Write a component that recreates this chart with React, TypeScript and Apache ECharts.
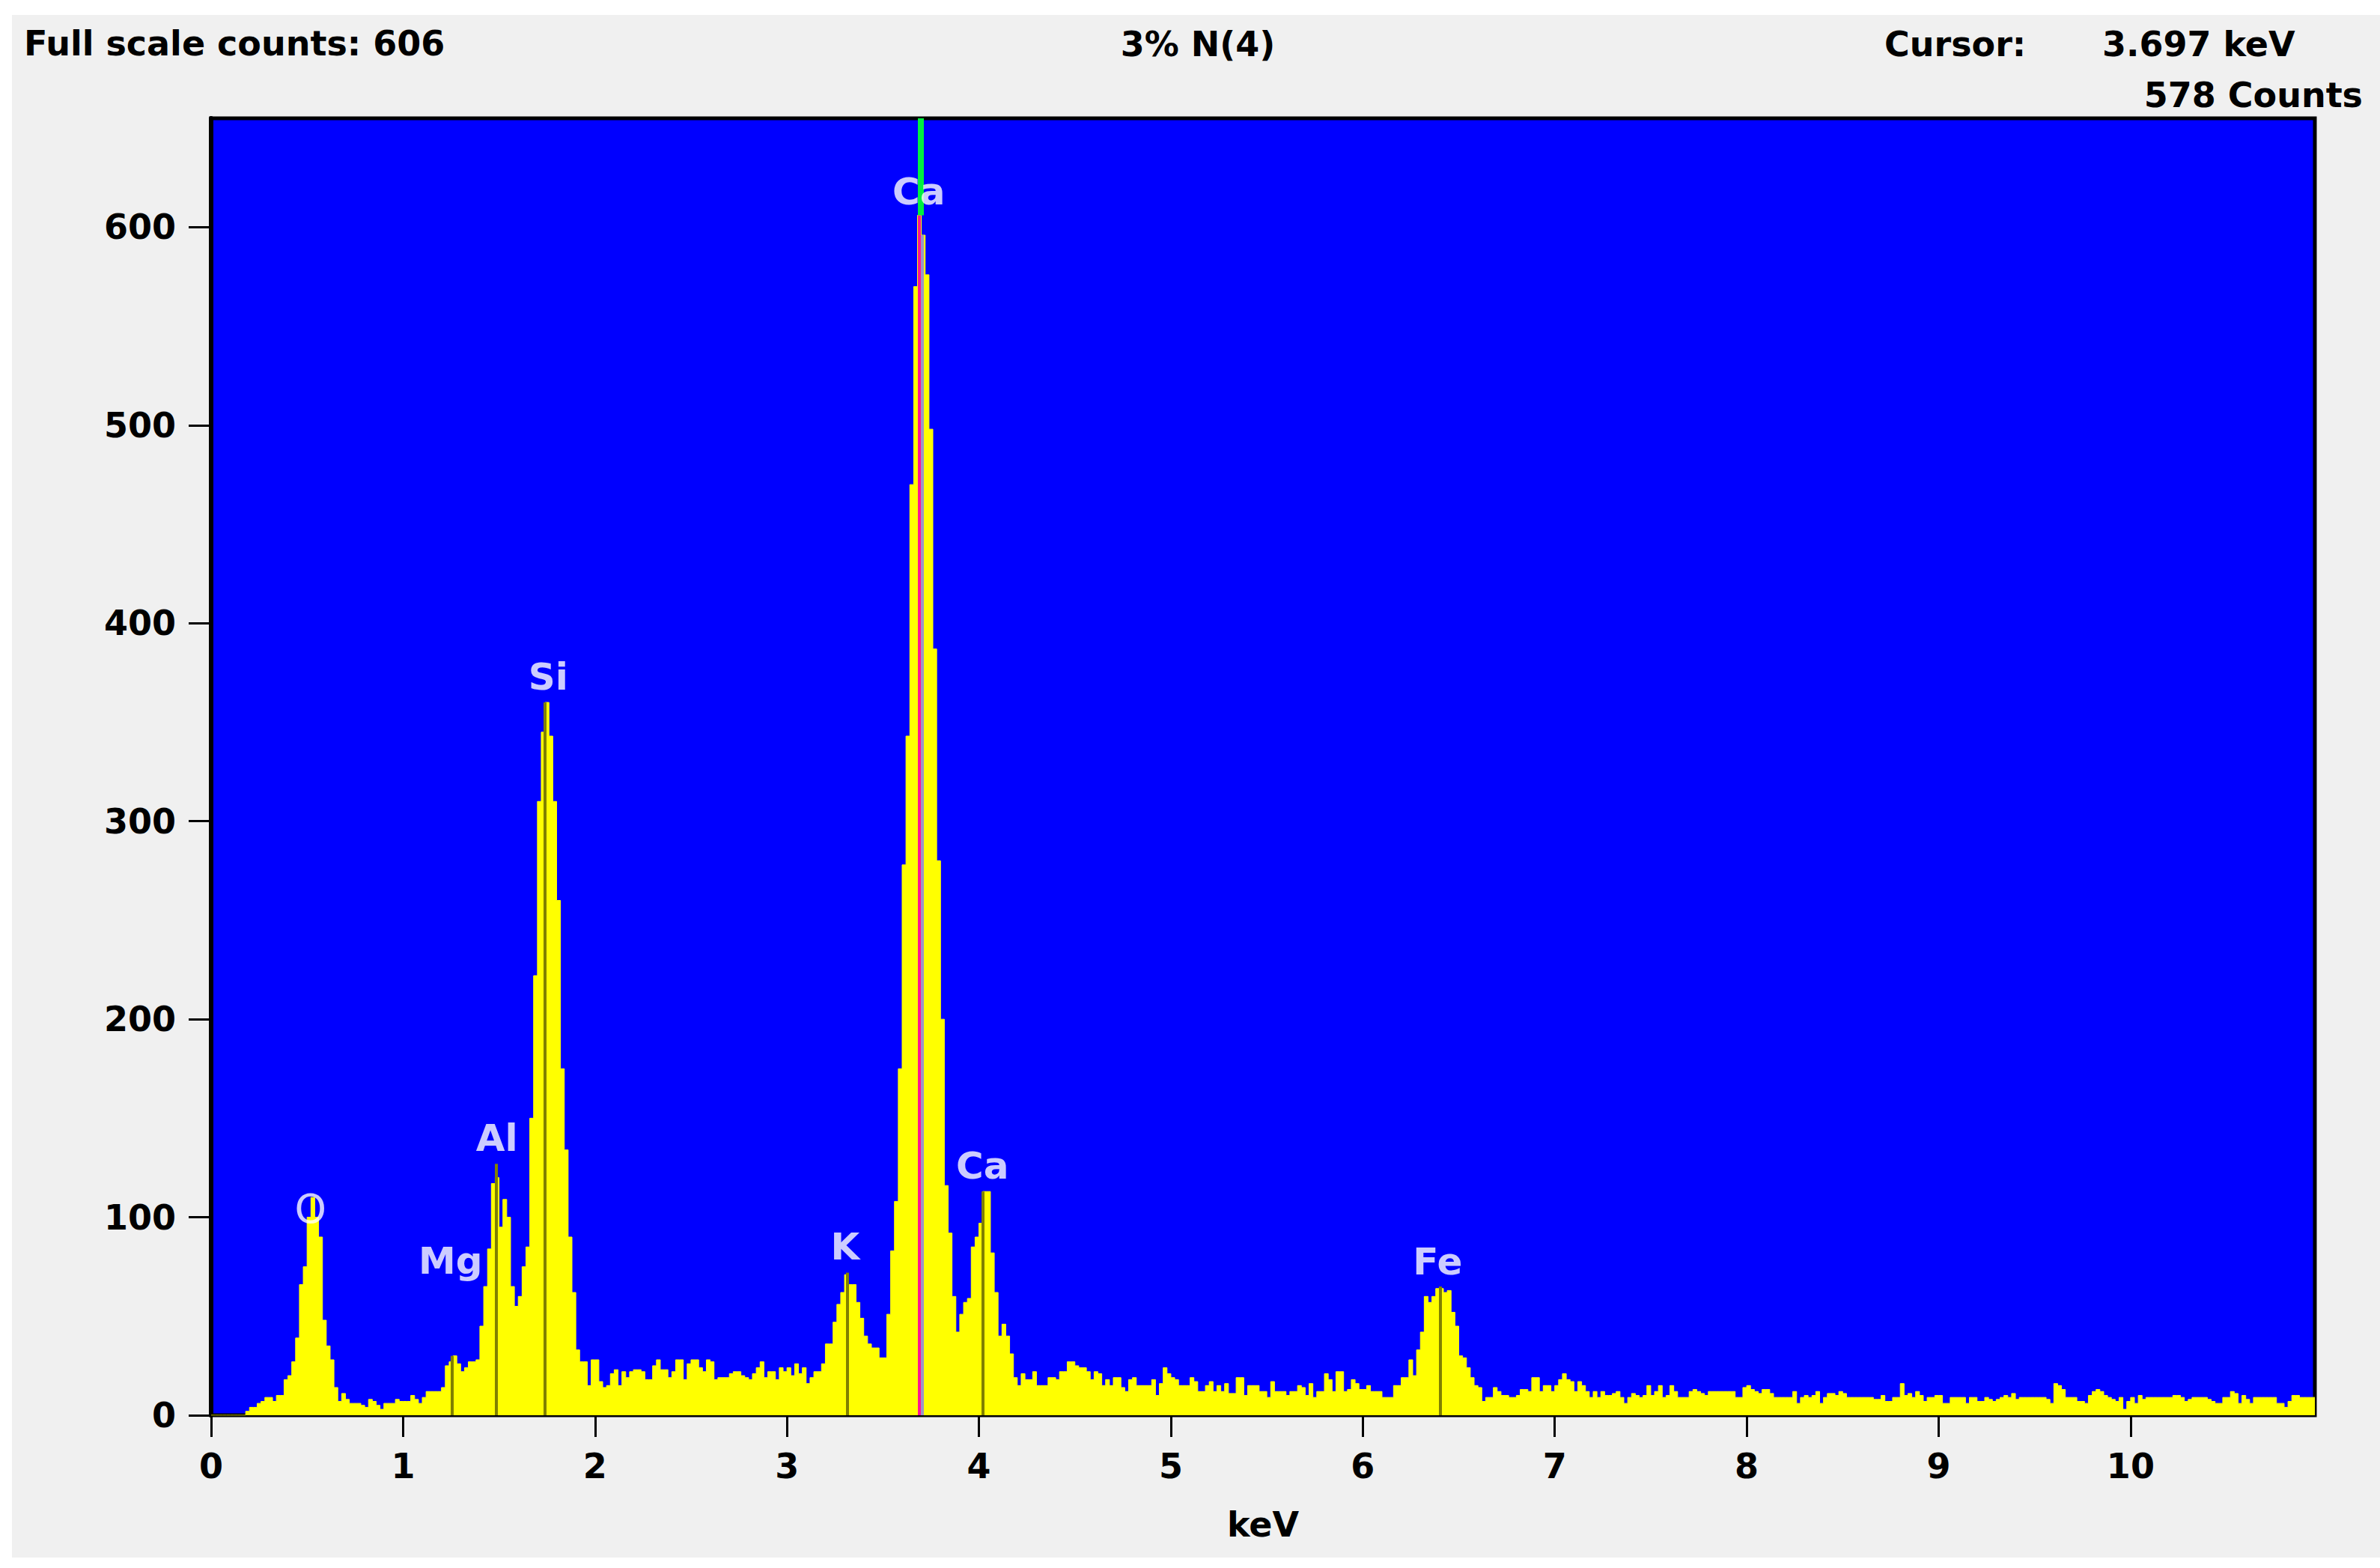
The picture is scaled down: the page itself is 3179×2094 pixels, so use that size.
import React, { useEffect, useRef } from "react";
import * as echarts from "echarts";

// ---- Spectrum data (counts per 0.02 keV channel) ----
const binWidthKeV = 0.02;
const counts0to1 = [
  0, 0, 0, 0, 0, 0, 0, 0, 0, 2,
  4, 4, 6, 7, 9, 9, 7, 10, 10, 18,
  20, 27, 39, 66, 75, 100, 110, 100, 90, 48,
  35, 28, 14, 7, 11, 8, 6, 6, 6, 5,
  4, 8, 7, 5, 3, 6, 6, 6, 8, 7,
];
const counts1to2 = [
  7, 7, 10, 8, 6, 9, 12, 12, 12, 12,
  14, 25, 27, 30, 26, 22, 24, 27, 27, 28,
  45, 65, 84, 117, 120, 95, 109, 100, 65, 55,
  60, 75, 85, 150, 222, 310, 345, 360, 343, 310,
  260, 175, 134, 90, 62, 33, 27, 27, 15, 28,
];
const counts2to3 = [
  28, 17, 14, 15, 21, 23, 15, 22, 19, 22,
  23, 23, 22, 18, 18, 25, 28, 23, 23, 19,
  22, 28, 28, 18, 26, 28, 28, 24, 22, 28,
  27, 18, 19, 19, 19, 21, 22, 22, 20, 19,
  18, 21, 24, 27, 19, 22, 22, 18, 24, 22,
];
const counts3to4 = [
  24, 20, 26, 21, 24, 16, 19, 22, 22, 26,
  36, 36, 47, 56, 62, 71, 66, 66, 57, 49,
  40, 36, 34, 34, 29, 29, 51, 83, 108, 175,
  278, 343, 470, 570, 606, 596, 576, 498, 387, 280,
  200, 116, 92, 60, 42, 51, 57, 59, 85, 90,
];
const counts4to5 = [
  97, 113, 113, 82, 62, 40, 46, 40, 31, 19,
  15, 21, 18, 18, 22, 15, 15, 15, 19, 19,
  18, 22, 22, 27, 27, 25, 24, 24, 22, 18,
  22, 21, 15, 18, 15, 19, 19, 14, 12, 18,
  19, 15, 15, 15, 15, 18, 10, 16, 24, 21,
];
const counts5to6 = [
  19, 18, 15, 15, 15, 19, 17, 12, 12, 15,
  17, 12, 15, 12, 16, 11, 11, 19, 19, 10,
  15, 15, 15, 12, 12, 9, 17, 12, 12, 12,
  10, 12, 12, 15, 14, 10, 16, 9, 12, 12,
  21, 18, 12, 22, 22, 12, 13, 18, 16, 13,
];
const counts6to7 = [
  13, 15, 12, 12, 12, 9, 9, 9, 15, 15,
  19, 19, 28, 20, 33, 42, 60, 57, 60, 64,
  64, 62, 63, 52, 45, 30, 29, 24, 19, 15,
  14, 7, 9, 9, 14, 12, 10, 10, 9, 9,
  10, 13, 13, 12, 19, 19, 12, 15, 15, 12,
];
const counts7to8 = [
  15, 18, 21, 18, 17, 12, 17, 15, 12, 9,
  12, 9, 12, 10, 10, 11, 12, 9, 6, 9,
  11, 10, 9, 10, 15, 10, 12, 15, 9, 10,
  15, 12, 9, 9, 9, 12, 13, 12, 11, 10,
  12, 12, 12, 12, 12, 12, 12, 9, 9, 14,
];
const counts8to9 = [
  15, 13, 12, 11, 13, 13, 11, 9, 9, 9,
  9, 9, 12, 6, 9, 10, 9, 10, 12, 6,
  9, 11, 11, 10, 12, 11, 9, 9, 9, 9,
  9, 9, 9, 8, 8, 10, 7, 7, 9, 9,
  16, 10, 11, 9, 12, 10, 7, 9, 9, 10,
];
const counts9to10 = [
  10, 6, 6, 9, 9, 9, 9, 6, 9, 9,
  7, 7, 9, 8, 7, 8, 9, 10, 9, 11,
  8, 9, 9, 9, 9, 9, 9, 9, 8, 6,
  16, 15, 13, 9, 9, 9, 7, 7, 6, 10,
  12, 13, 12, 10, 9, 8, 7, 9, 3, 7,
];
const counts10toEnd = [
  9, 6, 10, 8, 9, 9, 9, 9, 9, 9,
  9, 10, 10, 9, 7, 8, 9, 9, 9, 9,
  8, 7, 6, 6, 9, 9, 12, 11, 6, 10,
  8, 6, 9, 9, 9, 9, 9, 9, 6, 6,
  4, 7, 10, 10, 9, 9, 9, 9,
];

const spectrumCounts = [
  ...counts0to1, ...counts1to2, ...counts2to3, ...counts3to4, ...counts4to5,
  ...counts5to6, ...counts6to7, ...counts7to8, ...counts8to9, ...counts9to10,
  ...counts10toEnd,
];

// ---- Axes ----
const xMaxKeV = 10.96;
const yMaxCounts = 655;
const xTickValues = [0, 1, 2, 3, 4, 5, 6, 7, 8, 9, 10];
const yTickValues = [0, 100, 200, 300, 400, 500, 600];

// ---- Element marker lines ----
const markerKeV = [1.253, 1.486, 1.74, 3.313, 4.02, 6.403];
const markerTopCounts = [30, 127, 360, 72, 113, 65];

// ---- Element labels ----
const labelNames = ["O", "Mg", "Al", "Si", "K", "Ca", "Ca", "Fe"];
const labelKeV = [0.518, 1.247, 1.489, 1.756, 3.303, 3.687, 4.018, 6.39];
const labelCounts = [104, 78, 140, 373, 85, 618, 126, 77.5];

// ---- Header info ----
const fullScaleCounts = 606;
const cursorKeV = 3.697;
const cursorCounts = 578;
const cursorPeakCounts = 606;
const sampleTitle = "3% N(4)";

const FONT = "'DejaVu Sans', 'Noto Sans', sans-serif";

function buildOption() {
  const spectrumData: number[][] = spectrumCounts.map((v, i) => [
    Math.round(i * binWidthKeV * 1000) / 1000,
    v,
  ]);
  spectrumData.push([xMaxKeV, spectrumCounts[spectrumCounts.length - 1]]);

  const markerLines = markerKeV.map((e, i) => [
    { coord: [e, 0] },
    { coord: [e, markerTopCounts[i]] },
  ]);

  const halfCursor = 0.0078;
  const cursorLines = [
    [
      { coord: [cursorKeV - halfCursor, 0], lineStyle: { color: "#FF1493", width: 4, type: "solid" } },
      { coord: [cursorKeV - halfCursor, cursorPeakCounts] },
    ],
    [
      { coord: [cursorKeV + halfCursor, 0], lineStyle: { color: "#9A96C8", width: 4, type: "solid" } },
      { coord: [cursorKeV + halfCursor, cursorPeakCounts - 10] },
    ],
    [
      { coord: [cursorKeV, cursorPeakCounts], lineStyle: { color: "#00F040", width: 8, type: "solid" } },
      { coord: [cursorKeV, yMaxCounts] },
    ],
  ];

  const labelData = labelNames.map((n, i) => ({
    name: n,
    value: [labelKeV[i], labelCounts[i]],
    label: n === "O" ? { fontWeight: "normal", fontSize: 54 } : undefined,
  }));

  const headerStyle = {
    fill: "#000",
    fontFamily: FONT,
    fontWeight: "bold",
    fontSize: 46,
    verticalAlign: "middle",
    textVerticalAlign: "middle",
  };

  return {
    animation: false,
    backgroundColor: "#F0F0F0",
    textStyle: { fontFamily: FONT },
    grid: {
      left: 266,
      top: 138,
      right: 87,
      bottom: 190,
      show: true,
      backgroundColor: "#0000FF",
      borderColor: "#000000",
      borderWidth: 5,
    },
    xAxis: {
      type: "value",
      min: 0,
      max: xMaxKeV,
      interval: 1,
      name: "keV",
      nameLocation: "middle",
      nameGap: 123,
      nameTextStyle: { fontSize: 46, fontWeight: "bold", color: "#000", fontFamily: FONT },
      axisLine: { show: true, onZero: false, lineStyle: { color: "#000", width: 3 } },
      axisTick: {
        show: true,
        length: 29,
        customValues: xTickValues,
        lineStyle: { color: "#000", width: 3 },
      },
      axisLabel: {
        show: true,
        customValues: xTickValues,
        margin: 45,
        fontSize: 46,
        fontWeight: "bold",
        color: "#000",
        fontFamily: FONT,
        formatter: (v: number) => (Math.abs(v - Math.round(v)) < 1e-6 ? String(Math.round(v)) : ""),
      },
      splitLine: { show: false },
    },
    yAxis: {
      type: "value",
      min: 0,
      max: yMaxCounts,
      interval: 100,
      axisLine: { show: true, onZero: false, lineStyle: { color: "#000", width: 6 } },
      axisTick: {
        show: true,
        length: 30,
        customValues: yTickValues,
        lineStyle: { color: "#000", width: 3 },
      },
      axisLabel: {
        show: true,
        customValues: yTickValues,
        margin: 47,
        fontSize: 46,
        fontWeight: "bold",
        color: "#000",
        fontFamily: FONT,
        formatter: (v: number) => (v % 100 === 0 ? String(v) : ""),
      },
      splitLine: { show: false },
    },
    series: [
      {
        name: "Spectrum",
        type: "line",
        step: "end",
        data: spectrumData,
        symbol: "none",
        silent: true,
        z: 2,
        lineStyle: { color: "#FFFF00", width: 1 },
        itemStyle: { color: "#FFFF00" },
        areaStyle: { color: "#FFFF00", opacity: 1 },
        markLine: {
          silent: true,
          symbol: ["none", "none"],
          label: { show: false },
          lineStyle: { color: "#808000", width: 4, type: "solid" },
          data: [...markerLines, ...cursorLines],
        },
      },
      {
        name: "Elements",
        type: "scatter",
        data: labelData,
        symbolSize: 1,
        silent: true,
        z: 5,
        itemStyle: { color: "rgba(0,0,0,0)" },
        label: {
          show: true,
          position: "inside",
          formatter: (p: any) => p.name,
          color: "#FFFFFF",
          fontSize: 50,
          fontWeight: "bold",
          fontFamily: FONT,
        },
      },
    ],
    graphic: [
      {
        type: "text",
        x: 16,
        y: 38,
        style: { ...headerStyle, text: `Full scale counts: ${fullScaleCounts}`, align: "left", textAlign: "left" },
      },
      {
        type: "text",
        x: 1584,
        y: 39,
        style: { ...headerStyle, text: sampleTitle, align: "center", textAlign: "center" },
      },
      {
        type: "text",
        x: 2501,
        y: 39,
        style: { ...headerStyle, text: "Cursor:", align: "left", textAlign: "left" },
      },
      {
        type: "text",
        x: 2792,
        y: 39,
        style: { ...headerStyle, text: `${cursorKeV.toFixed(3)} keV`, align: "left", textAlign: "left" },
      },
      {
        type: "text",
        x: 3140,
        y: 107,
        style: { ...headerStyle, text: `${cursorCounts} Counts`, align: "right", textAlign: "right" },
      },
    ],
  };
}

export default function App() {
  const ref = useRef<HTMLDivElement>(null);
  useEffect(() => {
    if (!ref.current) return;
    const chart = echarts.init(ref.current, null, { renderer: "svg" });
    chart.setOption(buildOption() as any);
    return () => chart.dispose();
  }, []);
  return (
    <div
      style={{
        position: "fixed",
        left: 0,
        top: 0,
        width: 3179,
        height: 2094,
        background: "#FFFFFF",
        overflow: "hidden",
      }}
    >
      <div
        ref={ref}
        style={{ position: "absolute", left: 16, top: 20, width: 3163, height: 2060 }}
      />
    </div>
  );
}
